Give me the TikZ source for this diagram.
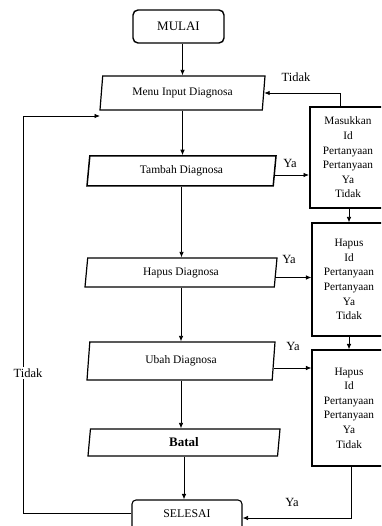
\documentclass[tikz,border=0pt]{standalone}
\usepackage{fontspec}
\setmainfont{Liberation Serif}
\usetikzlibrary{shapes.geometric,arrows.meta,calc}
\begin{document}
\begin{tikzpicture}[x=1pt,y=-1pt,
  txt/.style={font=\fontsize{11.5}{14.5}\selectfont},
  term/.style={draw,rounded corners=5pt,line width=1.4pt,inner sep=0pt,txt},
  para/.style={draw,trapezium,trapezium left angle=75,trapezium right angle=105,
     trapezium stretches body,inner sep=0pt,line width=1.2pt,txt},
  procbox/.style={draw,rectangle,inner sep=0pt,line width=1.1pt,align=center,
     font=\fontsize{11.3}{14.6}\selectfont},
  arr/.style={-{Latex[length=5.5pt,width=4.5pt]},line width=0.8pt},
  lbl/.style={font=\fontsize{12.5}{14}\selectfont,inner sep=1pt}]
\useasboundingbox (0,0) rectangle (381,526);
\clip (0,0) rectangle (381,526);
% terminals
\node[term,minimum width=91pt,minimum height=33pt,font=\fontsize{13}{15}\selectfont] (mulai) at (178.5,26.5) {MULAI};
\node[term,minimum width=110pt,minimum height=30pt,rounded corners=4pt,line width=1.1pt,font=\fontsize{11.8}{14}\selectfont] (selesai) at (187,515) {\raisebox{2pt}{SELESAI}};
% parallelograms
\node[para,minimum width=165pt,minimum height=34pt] (menu) at (182.5,93) {Menu Input Diagnosa};
\node[para,minimum width=189pt,minimum height=30pt,line width=1.5pt] (tambah) at (181.5,171) {Tambah Diagnosa};
\node[para,minimum width=192pt,minimum height=29pt] (hapus) at (181,272.5) {Hapus Diagnosa};
\node[para,minimum width=188pt,minimum height=38pt] (ubah) at (181,361) {Ubah Diagnosa};
\node[para,minimum width=192pt,minimum height=27pt,font=\fontsize{13}{16}\selectfont\bfseries] (batal) at (184,442.5) {Batal};
% process boxes
\node[procbox,minimum width=76pt,minimum height=101pt,line width=2pt] (box1) at (348,157.5)
  {Masukkan\\Id\\Pertanyaan\\Pertanyaan\\Ya\\Tidak};
\node[procbox,minimum width=74pt,minimum height=113pt] (box2) at (349,279.5)
  {Hapus\\Id\\Pertanyaan\\Pertanyaan\\Ya\\Tidak};
\node[procbox,minimum width=74pt,minimum height=116pt] (box3) at (349,408)
  {Hapus\\Id\\Pertanyaan\\Pertanyaan\\Ya\\Tidak};
% main flow
\draw[arr] (mulai.south -| menu.north) -- (menu.north);
\draw[arr] (menu.south) -- (menu.south |- tambah.north);
\draw[arr] (tambah.south) -- (tambah.south |- hapus.north);
\draw[arr] (hapus.south) -- (hapus.south |- ubah.north);
\draw[arr] (ubah.south) -- (ubah.south |- batal.north);
\draw[arr] (batal.south) -- (batal.south |- selesai.north);
% branches to boxes
\draw[arr] ([yshift=-4pt]tambah.east) -- ([yshift=-4pt]tambah.east -| box1.west);
\draw[arr] ([yshift=-5pt]hapus.east) -- ([yshift=-5pt]hapus.east -| box2.west);
\draw[arr] ([yshift=-7pt]ubah.east) -- ([yshift=-7pt]ubah.east -| box3.west);
\draw[arr] (box1.south -| box2.north) -- (box2.north);
\draw[arr] (box2.south) -- (box3.north);
\draw[arr] ([xshift=-8pt]box1.north) |- (menu.east);
\draw[arr] ([xshift=2pt]box3.south) |- ([yshift=-3pt]selesai.east);
% loop back
\coordinate (lc) at (23,116);
\coordinate (lin) at (100,116);
\draw[arr] ([yshift=2pt]selesai.west) -| (lc) -- (lin);
% labels
\node[lbl] (t1) at (296,77) {Tidak};
\node[lbl,fill=white,inner sep=2pt] (t2) at (28,373) {Tidak};
\node[lbl] (y1) at (290,163) {Ya};
\node[lbl] (y2) at (289,259) {Ya};
\node[lbl] (y3) at (293,346) {Ya};
\node[lbl] (y4) at (292,502) {Ya};
\end{tikzpicture}
\end{document}
